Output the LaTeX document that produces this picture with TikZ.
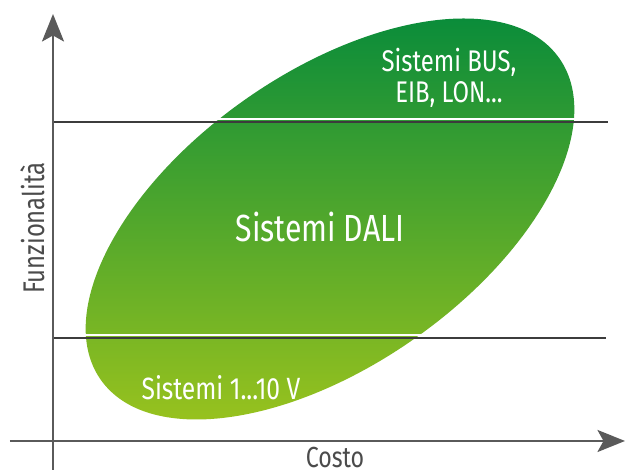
\documentclass[tikz,border=0pt]{standalone}
\usepackage{fontspec}
\setmainfont{Fira Sans}[FakeStretch=0.8]
\usepackage{tikz}
\usepackage{xcolor}
\usetikzlibrary{arrows.meta}
\definecolor{axisgrey}{RGB}{90,90,90}
\definecolor{textgrey}{RGB}{75,75,75}
\definecolor{topgreen}{RGB}{10,140,58}
\definecolor{bottomgreen}{RGB}{152,194,30}

\begin{document}
\begin{tikzpicture}
\useasboundingbox (0,0) rectangle (12.6,9.48);
\coordinate (O) at (1.06,0.66);
\coordinate (Ybot) at (1.06,0.08);
\coordinate (Ytop) at (1.06,9.2);
\coordinate (Xleft) at (0.2,0.66);
\coordinate (Xright) at (12.5,0.66);
\coordinate (C) at (6.6,5.1);
\begin{scope}
\clip[rotate around={35:(C)}] (C) ellipse (5.6 and 2.93);
\shade[top color=topgreen, bottom color=bottomgreen] (0.5,1.04) rectangle (12.2,9.14);
\end{scope}
\draw[white, line width=1pt] (1.2,7.1) -- (12.16,7.1);
\draw[white, line width=1pt] (1.2,2.78) -- (12.12,2.78);
\coordinate (HighL) at (1.06,7.04);
\coordinate (HighR) at (12.16,7.04);
\coordinate (LowL) at (1.06,2.72);
\coordinate (LowR) at (12.12,2.72);
\draw[textgrey!80!black, line width=0.8pt] (HighL) -- (HighR);
\draw[textgrey!80!black, line width=0.8pt] (LowL) -- (LowR);
\draw[axisgrey, line width=1.4pt, -{Stealth[length=0.55cm, width=0.44cm, inset=0.12cm]}] (Ybot) -- (Ytop);
\draw[axisgrey, line width=1.4pt, -{Stealth[length=0.55cm, width=0.44cm, inset=0.12cm]}] (Xleft) -- (Xright);
\node[white, font=\fontsize{21.5}{24}\selectfont] (DALI) at (6.4,4.94) {Sistemi DALI};
\node[white, align=center, font=\fontsize{17}{17.6}\selectfont] (BUS) at (8.98,7.93) {Sistemi BUS,\\EIB, LON...};
\node[white, font=\fontsize{17.5}{18}\selectfont] (Analog) at (4.42,1.72) {Sistemi 1...10 V};
\node[textgrey, font=\fontsize{16.5}{18}\selectfont] (Costo) at (6.7,0.32) {Costo};
\node[textgrey, rotate=90, font=\fontsize{17}{18}\selectfont] (Funz) at (0.66,4.92) {Funzionalità};
\end{tikzpicture}
\end{document}
